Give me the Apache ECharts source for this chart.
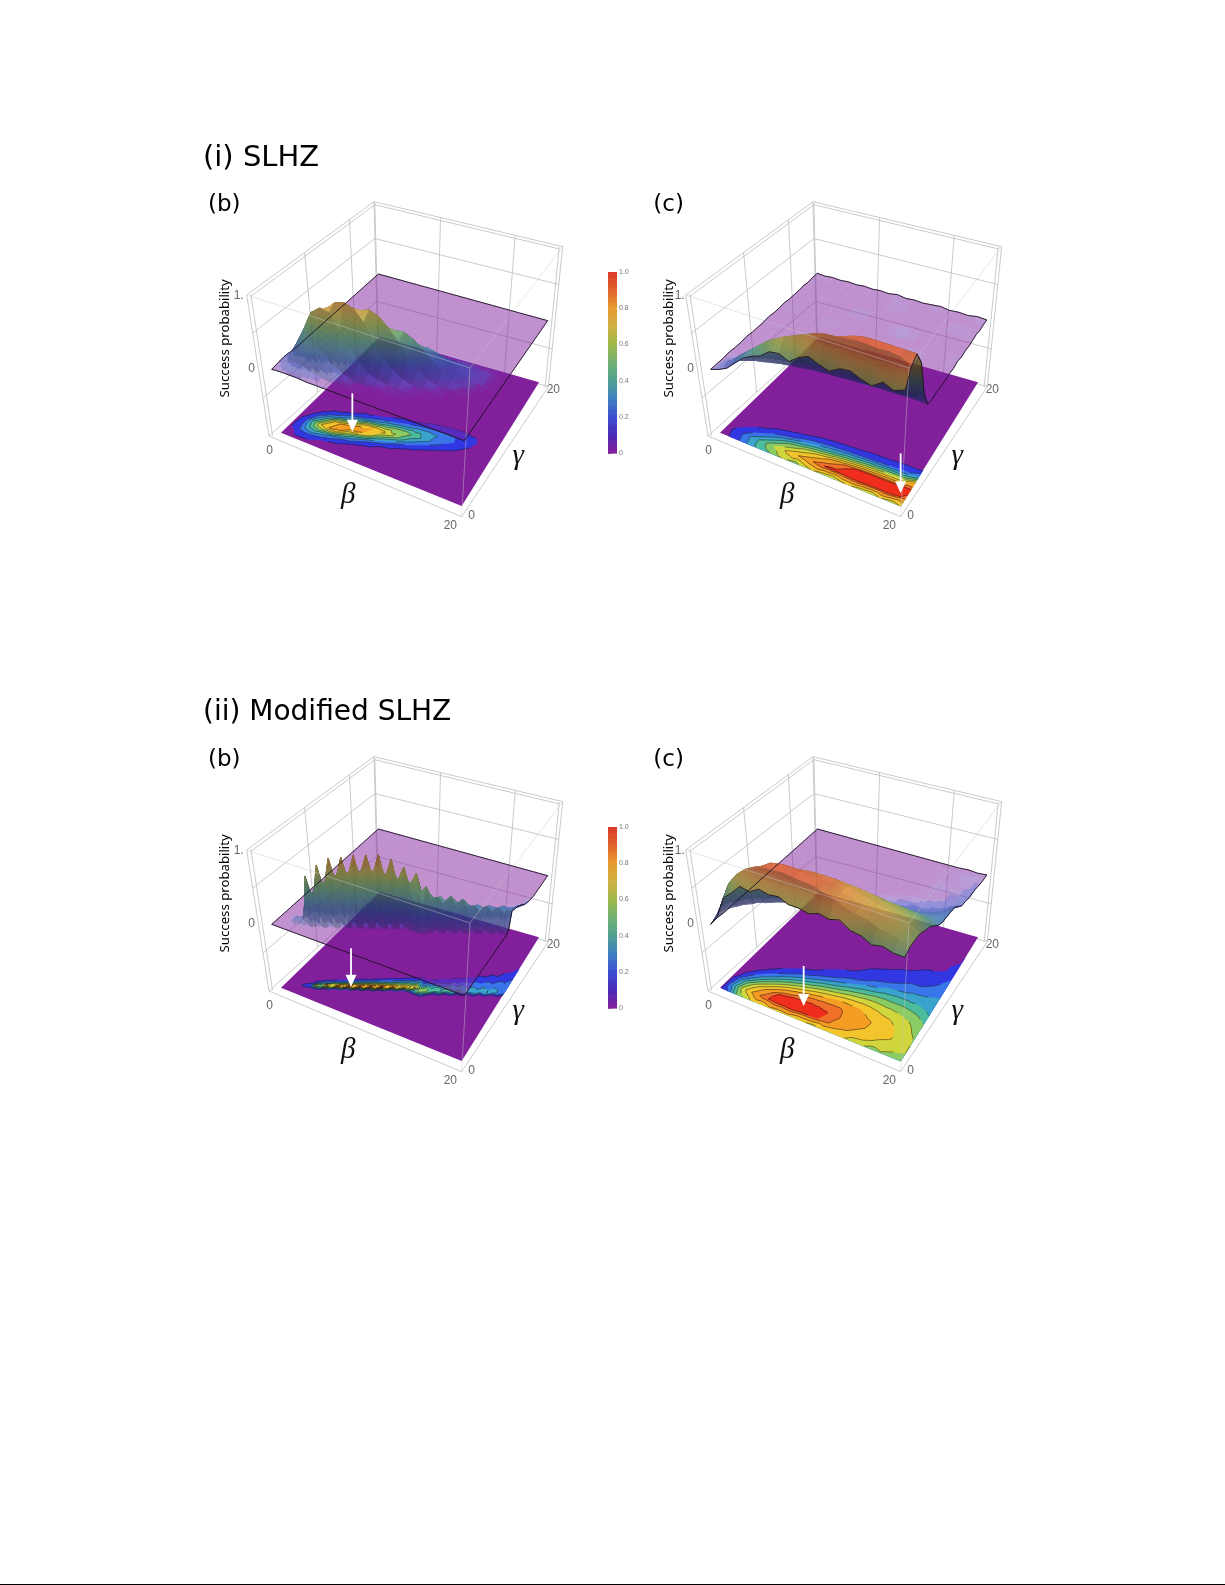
<!DOCTYPE html>
<html>
<head>
<meta charset="utf-8">
<script src="https://cdn.jsdelivr.net/npm/echarts@6/dist/echarts.min.js"></script>
<style>
  html, body { margin: 0; padding: 0; background: #fff; }
  #main { width: 1225px; height: 1585px; }
</style>
</head>
<body>
<div id="main"></div>
<script>
// success probability in percent, one list per beta step, one value per gamma step (missing = 0)
var probSlhzB = [
  [0,1,2,1],
  [1,5,12,10,3],
  [1,10,32,40,18,3],
  [1,9,38,66,38,9,1],
  [0,5,31,76,67,19,2],
  [0,2,21,74,80,33,6],
  [0,1,12,50,84,50,12,1],
  [0,0,6,33,80,70,20,2],
  [0,0,2,19,65,75,30,5],
  [0,0,1,9,40,70,40,9,1],
  [0,0,0,4,25,58,48,15,2],
  [0,0,1,2,13,44,50,21,3],
  [0,0,0,2,6,27,44,27,6],
  [0,0,0,1,3,15,34,29,9,1],
  [0,0,0,0,1,7,23,26,11,2],
  [0,0,0,0,1,3,13,22,13,3],
  [0,0,0,0,0,1,7,15,13,4],
  [0,0,0,0,0,0,3,8,8,3],
  [0,0,0,0,0,0,0,3,5,3],
  [0,0,0,0,0,0,0,0,1,1],
  []
];
var probSlhzC = [
  [0,0,0,1,0,0,1,0,0,0,1,0,0,1,0,0,0,1,0,1,1],
  [4,6,3,0,0,1,0,0,1,0,0,0,1,0,0,1,0,0,0,1,0],
  [10,13,5,1,0,0,0,1,0,0,0,0,0,1,0,0,0,0,0,0,1],
  [21,24,9,2,0,0,0,0,0,0,1,0,0,0,0,1,0,0,0,0,0],
  [32,34,15,4,0,0,0,0,0,0,0,0,0,0,0,0,1,0,0,0,1],
  [39,44,24,7,1,0,0,0,0,1,0,0,0,0,0,0,0,0,0,0,0],
  [44,55,34,10,1,0,0,0,0,0,0,0,2,0,0,0,0,0,1,0,1],
  [54,63,44,14,2,0,0,0,0,0,0,0,0,0,0,0,0,0,0,0,0],
  [56,70,50,20,4,0,0,0,0,0,0,0,0,0,0,3,0,0,0,0,1],
  [50,76,58,25,6,0,0,0,0,0,0,0,0,0,0,0,0,0,0,0,0],
  [60,82,64,30,7,1,0,0,0,0,0,0,0,0,0,0,0,0,0,0,2],
  [66,88,70,34,8,1,0,0,0,0,0,0,0,0,0,0,0,0,3,0,0],
  [60,92,78,38,9,1,0,0,0,0,0,0,0,0,0,0,0,0,0,0,1],
  [56,93,84,42,10,1,0,0,0,0,0,0,0,0,3,0,0,0,0,0,0],
  [64,95,90,46,11,1,0,0,0,0,0,0,0,0,3,0,0,0,0,0,1],
  [66,97,94,50,12,2,0,0,0,0,0,0,0,0,0,0,0,0,0,0,2],
  [60,97,95,52,13,2,0,0,0,0,0,3,0,0,0,0,0,0,0,0,0],
  [56,96,95,54,14,2,0,0,0,0,0,0,0,0,0,0,0,0,0,0,1],
  [66,97,95,55,15,3,0,0,0,0,0,0,0,0,0,0,0,3,0,0,0],
  [60,95,95,56,16,3,0,0,0,0,0,0,0,0,0,0,0,0,0,0,2],
  [66,88,95,75,25,2,0,1,0,0,1,0,2,0,1,0,1,2,0,1,1]
];
// modified SLHZ (b) is sharper, so it is read on a half step grid: first gamma index, then values
var ridgeStart = [0,0,0,2,2,3,3,4,4,5,5,6,6,7,7,8,8,9,9,10,10,11,11,12,12,12,12,13,13,14,14,15,15,16,16,17,17,18,18,19,19];
var ridgeProb = [
  [],[],[],[1,3,1],[1,8,2],[6,7,1],[3,62,14],[38,40,8],[4,77,22,3],[52,55,12,1],[5,87,30,5],[62,64,16,2],
  [5,88,36,7,1],[66,68,20,3],[6,91,42,9,1],[68,70,24,4],[6,92,46,12,2],[70,70,28,6,1],[6,93,50,15,3],[66,66,30,8,1],
  [5,87,52,18,4],[60,60,32,10,2],[5,77,50,20,6,1],[54,54,32,12,3],[30,69,48,22,8,2],[46,46,30,13,5,1],[30,55,44,24,10,3],
  [38,38,28,14,6,2],[3,41,38,24,12,5,1],[34,34,26,14,7,3],[3,43,36,26,14,7,3,1],[32,32,25,15,9,4,1],[3,39,33,25,16,9,4,1],
  [28,28,23,15,10,5,2],[2,30,28,23,16,11,6,2],[26,26,22,15,11,7,3,1],[2,30,27,22,17,12,8,4,1],[25,25,22,16,12,8,4,2],
  [2,28,26,23,18,13,9,6,2,1],[23,24,21,16,14,11,8,5,3,1],
  [2,25,23,21,20,16,14,10,7,5,3,2,1]
];
var probModC = [
  [0,1],
  [16,28,20,6,1],
  [44,56,42,20,6,1],
  [55,72,60,36,15,4],
  [68,83,72,50,26,9,2],
  [65,90,83,62,38,17,5,1],
  [73,93,92,72,48,26,9,2],
  [70,94,95,78,56,33,14,4,1],
  [72,95,96,83,62,40,20,7,3],
  [66,93,94,87,68,47,26,11,5,1],
  [66,92,93,88,72,52,31,16,7,3,1],
  [63,91,92,88,75,56,37,20,11,4,1],
  [68,86,90,88,77,60,42,25,12,8,4,1],
  [65,82,84,83,76,62,46,30,17,8,6,2,1],
  [69,76,81,81,75,63,49,33,19,12,7,4,1],
  [60,72,77,77,72,62,50,37,25,14,9,6,2,1,0,0,0,1],
  [58,70,73,74,68,60,49,38,26,18,10,8,3,1,0,2,0,0,1],
  [51,64,70,70,66,58,49,38,28,18,14,7,6,2,0,0,3,0,0,1],
  [54,62,66,65,62,55,47,37,28,22,14,11,6,4,1,2,0,0,3,0,1],
  [50,58,61,61,57,52,44,35,29,23,19,12,9,5,4,2,3,0,2,1,0],
  [50,55,55,54,49,45,38,30,26,25,24,22,15,9,8,5,5,4,2,1,1]
];
var betaLabels = ['0', '20'];
var gammaLabels = ['0', '20'];
var zLabels = ['0', '1.'];
var contourLevels = [0.05, 0.15, 0.25, 0.35, 0.45, 0.55, 0.65, 0.75, 0.85, 0.91];
var contourColors = ['#3038e4', '#3a78ea', '#3aa4cc', '#4cbc9c', '#8ccc62', '#d2d63c', '#f4c42c', '#f49c24', '#f0702a', '#f02c1c'];
var barValues = [0, 0.1, 0.2, 0.3, 0.4, 0.5, 0.6, 0.7, 0.8, 0.9, 1];
var barColors = ['#82209c', '#4a2ab8', '#3a50d0', '#3f80c0', '#50a090', '#70b070', '#a0b84a', '#d0b040', '#e89a30', '#e0602a', '#d93a2a'];
var surfaceValues = [0, 0.03, 0.1, 0.2, 0.3, 0.4, 0.5, 0.6, 0.7, 0.8, 0.9, 1];
var surfaceColors = ['#82209c', '#5f55c8', '#4c58cc', '#4266c8', '#4a88b4', '#55a092', '#72ad70', '#9fb44c', '#c9ad42', '#e09a38', '#dc6630', '#d5402c'];
var floorColor = '#82209c';
var layerFloors = [0, 0.02, 0.08, 0.18];
var layerOpacity = [0.5, 0.3, 0.35, 0.35];

function expand(cols, n, starts) {
  var out = [];
  for (var i = 0; i < n; i++) {
    var row = [];
    for (var j = 0; j < n; j++) row.push(0);
    var c = cols[i] || [];
    for (var k = 0; k < c.length; k++) row[(starts ? starts[i] : 0) + k] = c[k] / 100;
    out.push(row);
  }
  return out;
}

function hex(c) {
  return [parseInt(c.substr(1, 2), 16), parseInt(c.substr(3, 2), 16), parseInt(c.substr(5, 2), 16)];
}
function ramp(values, colors, v, shade) {
  v = Math.max(0, Math.min(1, v));
  var i = 0;
  while (i < values.length - 2 && v > values[i + 1]) i++;
  var a = hex(colors[i]), b = hex(colors[i + 1]), f = (v - values[i]) / (values[i + 1] - values[i]);
  shade = shade === undefined ? 1 : shade;
  return 'rgb(' + [0, 1, 2].map(function (k) {
    return Math.round((a[k] + (b[k] - a[k]) * f) * shade);
  }).join(',') + ')';
}

// unit square -> quad (perspective)
function quadMap(q) {
  var x0 = q[0][0], y0 = q[0][1], x1 = q[1][0], y1 = q[1][1], x2 = q[2][0], y2 = q[2][1], x3 = q[3][0], y3 = q[3][1];
  var dx1 = x1 - x2, dx2 = x3 - x2, sx = x0 - x1 + x2 - x3;
  var dy1 = y1 - y2, dy2 = y3 - y2, sy = y0 - y1 + y2 - y3;
  var det = dx1 * dy2 - dx2 * dy1;
  var g = (sx * dy2 - dx2 * sy) / det, h = (dx1 * sy - sx * dy1) / det;
  var a = x1 - x0 + g * x1, b = x3 - x0 + h * x3, d = y1 - y0 + g * y1, e = y3 - y0 + h * y3;
  return function (s, t) {
    var w = g * s + h * t + 1;
    return [(a * s + b * t + x0) / w, (d * s + e * t + y0) / w];
  };
}

// view of the box, in the hidden axes of a panel
var floorMap = quadMap([[258, 908], [800, 1128], [1032, 757], [555, 620]]);
var planeMap = quadMap([[230, 718], [808, 932], [1058, 572], [550, 432]]);
var zFloor = -0.85;
function project(b, g, z) {
  var s = b / 20, t = g / 20;
  var f = floorMap(s, t), p = planeMap(s, t), k = (z - zFloor) / (-zFloor);
  return [f[0] + (p[0] - f[0]) * k, f[1] + (p[1] - f[1]) * k];
}
var boxBottom = quadMap([[222, 918], [800, 1160], [1060, 770], [548, 625]]);
var boxTop = quadMap([[155, 495], [825, 714], [1103, 350], [537, 215]]);
function boxPoint(s, t, w) {
  var a = boxBottom(s, t), b = boxTop(s, t);
  return [a[0] + (b[0] - a[0]) * w, a[1] + (b[1] - a[1]) * w];
}
var wallS = [0.38, 0.77], wallT = [0.4, 0.77], wallW = [0.27, 0.73], inset = 0.012;

var panels = [
  { grid: expand(probSlhzB, 21), step: 1, col: 0, row: 0, label: '(b)', arrow: [[472, 790], [472, 905]], zx: 0, oneX: 131 },
  { grid: expand(probSlhzC, 21), step: 1, col: 1, row: 0, label: '(c)', arrow: [[800, 970], [800, 1090]], zx: 16, oneX: 137 },
  { grid: expand(ridgeProb, 41, ridgeStart), step: 0.5, col: 0, row: 1, label: '(b)', arrow: [[468, 790], [468, 905]], zx: 0, oneX: 131 },
  { grid: expand(probModC, 21), step: 1, col: 1, row: 1, label: '(c)', arrow: [[509, 843], [509, 963]], zx: 16, oneX: 137 }
];
var colStep = 439, rowStep = 555;

function line(api, pts, color, width) {
  return {
    type: 'polyline', silent: true,
    shape: { points: pts.map(function (p) { return api.coord(p); }) },
    style: { stroke: color, lineWidth: width, fill: null, lineJoin: 'round' }
  };
}

function boxBackItem(api) {
  var c = [], col = '#c4c4c4', i;
  function seg(s0, t0, w0, s1, t1, w1) {
    c.push(line(api, [boxPoint(s0, t0, w0), boxPoint(s1, t1, w1)], col, 0.9));
  }
  // back walls: frame, inner frame and grid
  [0, inset].forEach(function (d) {
    seg(d, 1 - d, 0, d, 1 - d, 1);
    seg(d, d, 0, d, d, 1);
    seg(1 - d, 1 - d, 0, 1 - d, 1 - d, 1);
    seg(d, d, 1 - d, d, 1 - d, 1 - d);
    seg(d, 1 - d, 1 - d, 1 - d, 1 - d, 1 - d);
  });
  seg(0, 0, 0, 1, 0, 0);
  seg(1, 0, 0, 1, 1, 0);
  seg(0, 0, 0, 0, 1, 0);
  seg(0, 1, 0, 1, 1, 0);
  for (i = 0; i < wallW.length; i++) {
    seg(0, 0, wallW[i], 0, 1, wallW[i]);
    seg(0, 1, wallW[i], 1, 1, wallW[i]);
  }
  for (i = 0; i < wallT.length; i++) seg(0, wallT[i], 0, 0, wallT[i], 1);
  for (i = 0; i < wallS.length; i++) seg(wallS[i], 1, 0, wallS[i], 1, 1);
  return { type: 'group', children: c };
}

function boxFrontItem(api) {
  var c = [], col = 'rgba(200,200,200,0.5)';
  function seg(s0, t0, w0, s1, t1, w1) {
    c.push(line(api, [boxPoint(s0, t0, w0), boxPoint(s1, t1, w1)], col, 0.9));
  }
  seg(1, 0, 0, 1, 0, 1);
  seg(0, 0, 1, 1, 0, 1);
  seg(1, 0, 1, 1, 1, 1);
  return { type: 'group', children: c };
}

// clip a triangle [x,y,v] to v >= level
function clipTri(tri, level) {
  var out = [];
  for (var i = 0; i < 3; i++) {
    var a = tri[i], b = tri[(i + 1) % 3];
    if (a[2] >= level) out.push(a);
    if ((a[2] >= level) !== (b[2] >= level)) {
      var f = (level - a[2]) / (b[2] - a[2]);
      out.push([a[0] + (b[0] - a[0]) * f, a[1] + (b[1] - a[1]) * f, level]);
    }
  }
  return out;
}

function cellTris(api, h) {
  var b = api.value(0), g = api.value(1);
  var a00 = [b, g, api.value(2)], a10 = [b + h, g, api.value(3)], a11 = [b + h, g + h, api.value(4)], a01 = [b, g + h, api.value(5)];
  return [[a00, a10, a11], [a00, a11, a01]];
}

// one band of one cell, drawn level by level so the higher bands stay on top
function floorBand(api, p) {
  var n = api.value(6), c = [];
  cellTris(api, p.step).forEach(function (tri) {
    var poly = clipTri(tri, contourLevels[n]);
    if (poly.length < 3) return;
    c.push({ type: 'polygon', silent: true,
      shape: { points: poly.map(function (q) { return api.coord(project(q[0], q[1], zFloor)); }) },
      style: { fill: contourColors[n], stroke: contourColors[n], lineWidth: 0.5 } });
  });
  return { type: 'group', children: c };
}

function floorLines(api, p) {
  var c = [];
  cellTris(api, p.step).forEach(function (tri) {
    contourLevels.forEach(function (lv) {
      var cut = clipTri(tri, lv).filter(function (q) { return q[2] === lv; });
      if (cut.length === 2) {
        c.push(line(api, cut.map(function (q) { return project(q[0], q[1], zFloor); }), 'rgba(20,20,20,0.8)', 0.6));
      }
    });
  });
  return { type: 'group', children: c };
}

function surfaceCell(api, p, minZ) {
  var b = api.value(0), g = api.value(1), h = p.step;
  var z00 = api.value(2), z10 = api.value(3), z11 = api.value(4), z01 = api.value(5);
  var hi = Math.max(z00, z10, z11, z01), lo = Math.min(z00, z10, z11, z01);
  var n = Math.max(1, Math.min(6, Math.ceil((hi - lo) / 0.03)));
  var sx = (z10 + z11 - z00 - z01) / (2 * h) * 12, sy = (z01 + z11 - z00 - z10) / (2 * h) * 12;
  var shade = 0.55 + 0.45 / Math.sqrt(1 + sx * sx + sy * sy);
  function zAt(u, v) {
    return z00 * (1 - u) * (1 - v) + z10 * u * (1 - v) + z11 * u * v + z01 * (1 - u) * v;
  }
  var c = [];
  for (var j = n - 1; j >= 0; j--) {
    for (var i = 0; i < n; i++) {
      var u0 = i / n, u1 = (i + 1) / n, v0 = j / n, v1 = (j + 1) / n;
      var zz = (zAt(u0, v0) + zAt(u1, v0) + zAt(u1, v1) + zAt(u0, v1)) / 4;
      if (zz < minZ) continue;
      var pts = [[u0, v0], [u1, v0], [u1, v1], [u0, v1]].map(function (q) {
        return api.coord(project(b + q[0] * h, g + q[1] * h, zAt(q[0], q[1])));
      });
      // cells seen from below are darker
      var area = 0;
      for (var k = 0; k < 4; k++) {
        var m = pts[k], o = pts[(k + 1) % 4];
        area += m[0] * o[1] - o[0] * m[1];
      }
      var col = ramp(surfaceValues, surfaceColors, zz, area > 0 ? shade * 0.62 : shade);
      c.push({ type: 'polygon', silent: true, shape: { points: pts }, style: { fill: col, stroke: col, lineWidth: 0.7 } });
    }
  }
  return { type: 'group', children: c };
}

function overlayItem(api, p) {
  var c = [], n = p.grid.length, h = p.step, i, pts, last = n - 1, ink = '#1a1020';
  pts = [];
  for (i = 0; i < n; i++) pts.push(project(i * h, last * h, p.grid[i][last]));
  c.push(line(api, pts, ink, 0.9));
  pts = [];
  for (i = 0; i < n; i++) pts.push(project(0, i * h, p.grid[0][i]));
  c.push(line(api, pts, ink, 0.9));
  pts = [];
  for (i = 0; i < n; i++) pts.push(project(i * h, 0, p.grid[i][0]));
  c.push(line(api, pts, ink, 0.9));
  pts = [];
  for (i = 0; i < n; i++) pts.push(project(last * h, i * h, p.grid[last][i]));
  c.push(line(api, pts, ink, 0.9));
  // arrow
  var a = api.coord(p.arrow[0]), t = api.coord(p.arrow[1]);
  c.push({ type: 'line', silent: true, shape: { x1: a[0], y1: a[1], x2: t[0], y2: t[1] - 8 }, style: { stroke: '#fff', lineWidth: 1.8 } });
  c.push({ type: 'polygon', silent: true, shape: { points: [[t[0], t[1]], [t[0] - 5.5, t[1] - 12], [t[0] + 5.5, t[1] - 12]] }, style: { fill: '#fff' } });
  return { type: 'group', children: c };
}

var grids = [], xAxes = [], yAxes = [], series = [], graphics = [], titles = [];

function addText(text, x, y, opts) {
  opts = opts || {};
  graphics.push({
    type: 'text', x: x, y: y, rotation: opts.rotation || 0, silent: true,
    style: {
      text: text, fill: opts.color || '#666',
      font: (opts.style || '') + ' ' + (opts.size || 12) + 'px ' + (opts.family || '"Liberation Sans"'),
      align: 'center', verticalAlign: 'middle'
    }
  });
}

panels.forEach(function (p, idx) {
  var ox = 195 + p.col * colStep, oy = 130 + p.row * rowStep;
  grids.push({ left: ox, top: oy, width: 440, height: 420 });
  xAxes.push({ gridIndex: idx, type: 'value', min: 0, max: 1320, show: false });
  yAxes.push({ gridIndex: idx, type: 'value', min: 0, max: 1260, inverse: true, show: false });

  var n = p.grid.length, cells = [], i, j;
  // far corner first: high gamma, low beta
  for (j = n - 2; j >= 0; j--) {
    for (i = 0; i < n - 1; i++) {
      cells.push([i * p.step, j * p.step, p.grid[i][j], p.grid[i + 1][j], p.grid[i + 1][j + 1], p.grid[i][j + 1]]);
    }
  }
  function peak(c) { return Math.max(c[2], c[3], c[4], c[5]); }
  var bands = [];
  contourLevels.forEach(function (lv, k) {
    cells.forEach(function (c) { if (peak(c) >= lv) bands.push(c.concat([k])); });
  });

  var base = { type: 'custom', coordinateSystem: 'cartesian2d', xAxisIndex: idx, yAxisIndex: idx, clip: false, silent: true, animation: false, progressive: 0 };
  series.push(Object.assign({}, base, { z: 1, data: [[0, 0]], renderItem: function (params, api) { return boxBackItem(api); } }));
  series.push(Object.assign({}, base, {
    z: 2, data: [[0, 0]],
    renderItem: function (params, api) {
      return { type: 'polygon', silent: true,
        shape: { points: [[0, 0], [20, 0], [20, 20], [0, 20]].map(function (q) { return api.coord(project(q[0], q[1], zFloor)); }) },
        style: { fill: floorColor } };
    }
  }));
  series.push(Object.assign({}, base, { z: 3, data: bands, renderItem: function (params, api) { return floorBand(api, p); } }));
  series.push(Object.assign({}, base, {
    z: 4, data: cells.filter(function (c) { return peak(c) >= contourLevels[0]; }),
    renderItem: function (params, api) { return floorLines(api, p); }
  }));
  // surface: stacked see-through layers, the higher parts get more of them
  layerFloors.forEach(function (minZ, k) {
    series.push(Object.assign({}, base, {
      zlevel: k + 1,
      data: cells.filter(function (c) { return peak(c) >= minZ; }),
      renderItem: function (params, api) { return surfaceCell(api, p, minZ); }
    }));
  });
  series.push(Object.assign({}, base, { zlevel: 5, data: [[0, 0]], renderItem: function (params, api) { return boxFrontItem(api); } }));
  series.push(Object.assign({}, base, { zlevel: 5, z: 6, data: [[0, 0]], renderItem: function (params, api) { return overlayItem(api, p); } }));

  // axis labels, placed in the panel's own units
  function at(x, y) { return [ox + x / 3, oy + y / 3]; }
  var q;
  q = at(p.oneX, 497); addText(zLabels[1], q[0], q[1]);
  q = at(170, 716); addText(zLabels[0], q[0], q[1]);
  q = at(224, 962); addText(betaLabels[0], q[0], q[1]);
  q = at(766, 1187); addText(betaLabels[1], q[0], q[1]);
  q = at(830, 1156); addText(gammaLabels[0], q[0], q[1]);
  q = at(1075, 780); addText(gammaLabels[1], q[0], q[1]);
  q = at(460, 1095); addText('β', q[0], q[1], { size: 29, style: 'italic', family: '"Liberation Serif"', color: '#111' });
  q = at(970, 980); addText('γ', q[0], q[1], { size: 29, style: 'italic', family: '"Liberation Serif"', color: '#111' });
  q = at(90 + p.zx, 625); addText('Success probability', q[0], q[1], { size: 13.2, family: '"Noto Sans"', color: '#000', rotation: Math.PI / 2 });

  var lab = at(p.col === 0 ? 39 : 58, 192);
  titles.push({ text: p.label, left: lab[0], top: lab[1], padding: 0, textStyle: { fontSize: 23, fontWeight: 'normal', fontFamily: '"DejaVu Sans"', color: '#000' } });
});

titles.push({ text: '(i) SLHZ', left: 203, top: 144, padding: 0, textStyle: { fontSize: 29, fontWeight: 'normal', fontFamily: '"DejaVu Sans"', color: '#000' } });
titles.push({ text: '(ii) Modified SLHZ', left: 203, top: 699, padding: 0, textStyle: { fontSize: 28, fontWeight: 'normal', fontFamily: '"DejaVu Sans"', color: '#000' } });

// colour bars
var barSteps = [];
for (var s = 0; s < 100; s++) barSteps.push([s / 100, (s + 1) / 100]);
[272, 827].forEach(function (top) {
  var idx = grids.length;
  grids.push({ left: 608, top: top, width: 9, height: 181 });
  xAxes.push({ gridIndex: idx, type: 'value', min: 0, max: 1, show: false });
  yAxes.push({
    gridIndex: idx, type: 'value', min: 0, max: 1, interval: 0.2, position: 'right',
    axisLine: { show: false }, splitLine: { show: false },
    axisTick: { length: 4, lineStyle: { color: '#777', width: 0.8 } },
    minorTick: { show: true, splitNumber: 2, length: 3, lineStyle: { color: '#888', width: 0.8 } },
    axisLabel: { fontSize: 7, color: '#777', margin: 2, fontFamily: '"Liberation Sans"',
      formatter: function (v) { return v === 1 ? '1.0' : (v === 0 ? '0' : v.toFixed(1)); } }
  });
  series.push({
    type: 'custom', coordinateSystem: 'cartesian2d', xAxisIndex: idx, yAxisIndex: idx, silent: true, animation: false,
    data: barSteps, encode: { y: [0, 1] },
    renderItem: function (params, api) {
      var a = api.coord([0, api.value(0)]), b = api.coord([1, api.value(1)]);
      return { type: 'rect', silent: true, shape: { x: a[0], y: b[1], width: b[0] - a[0], height: a[1] - b[1] + 0.6 },
        style: { fill: ramp(barValues, barColors, api.value(0)) } };
    }
  });
});

// rule along the bottom of the page
graphics.push({ type: 'rect', silent: true, shape: { x: 0, y: 1584, width: 1225, height: 1 }, style: { fill: '#000' } });

var myChart = echarts.init(document.getElementById('main'));
myChart.setOption({
  animation: false,
  backgroundColor: '#fff',
  title: titles,
  grid: grids,
  xAxis: xAxes,
  yAxis: yAxes,
  series: series,
  graphic: graphics
});
// the surface layers are see-through as a whole, so the cells leave no seams
var painter = myChart.getZr().painter;
layerOpacity.forEach(function (o, k) {
  painter.getLayer(k + 1).dom.style.opacity = o;
});
</script>
</body>
</html>
